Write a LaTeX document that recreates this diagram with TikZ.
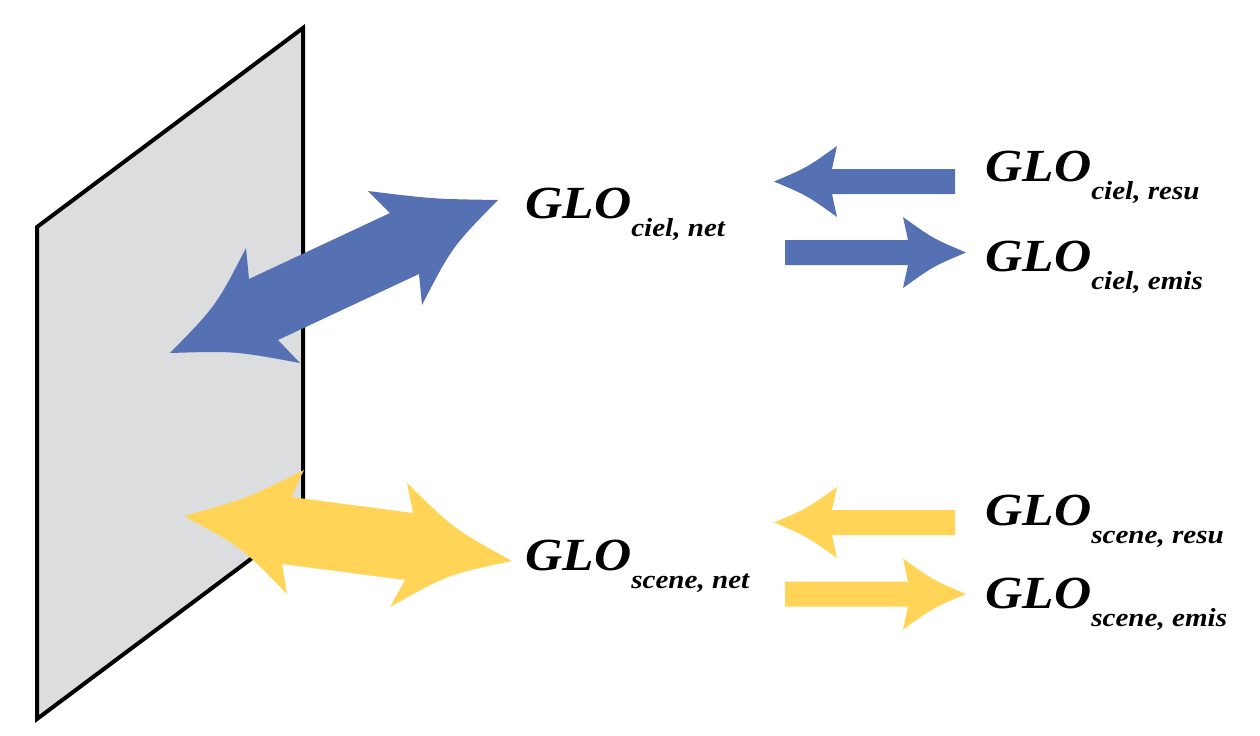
\documentclass[tikz,border=0pt]{standalone}
\usepackage{fontspec}
\newfontfamily\labfont{Liberation Serif}[FakeStretch=1.12]
\definecolor{bluec}{HTML}{5670B4}
\definecolor{yellowc}{HTML}{FFD457}
\definecolor{planec}{HTML}{DCDDDF}
\newcommand\lsub[1]{\raisebox{-9pt}{\fontsize{13}{13}\selectfont #1}}
\tikzset{
  plane/.style={fill=planec, draw=black, line width=2pt, line join=miter},
  lab/.style={font=\labfont\bfseries\itshape\fontsize{23}{23}\selectfont, inner sep=0pt, anchor=base west},
  harrow/.pic={\fill (0,0) .. controls (-33,-14) .. (-63,-35.5) -- (-58,-12.5) -- (-181,-12.5) -- (-181,12.5) -- (-58,12.5) -- (-63,35.5) .. controls (-33,14) .. (0,0) -- cycle;}
}
\begin{document}
\begin{tikzpicture}[x=0.5pt,y=-0.5pt]
\useasboundingbox (0,0) rectangle (1260,735);
% plane
\draw[plane] (303,28) -- (37,227) -- (37,719) -- (303,520) -- cycle;
% big blue double arrow
\fill[bluec] (170,353) .. controls (216,306) .. (246,248) -- (249,279) -- (390,213) -- (368,191)
  .. controls (433,199) .. (498,200) .. controls (452,247) .. (422,305) -- (419,274) -- (278,340)
  -- (300,363) .. controls (235,351) .. (170,353) -- cycle;
% big yellow double arrow
\fill[yellowc] (184,516) .. controls (246,499) .. (304,470) -- (291,497) -- (413,513) -- (407,483)
  .. controls (454,529) .. (512,561) .. controls (447.5,574.6) .. (390,607) -- (405,580) -- (282,564)
  -- (287,594) .. controls (241.5,547) .. (184,516) -- cycle;
% small arrows
\pic[bluec, xscale=-1] at (774,181.5) {harrow};
\pic[bluec] at (966,252.5) {harrow};
\pic[yellowc, xscale=-1] at (774,522.5) {harrow};
\pic[yellowc] at (966,594) {harrow};
% labels
\node[lab] (cnet) at (525,218) {GLO\lsub{ciel, net}};
\node[lab] (snet) at (525,570) {GLO\lsub{scene, net}};
\node[lab] (cresu) at (985,181) {GLO\lsub{ciel, resu}};
\node[lab] (cemis) at (985,271) {GLO\lsub{ciel, emis}};
\node[lab] (sresu) at (985,525) {GLO\lsub{scene, resu}};
\node[lab] (semis) at (985,608) {GLO\lsub{scene, emis}};
\end{tikzpicture}
\end{document}
